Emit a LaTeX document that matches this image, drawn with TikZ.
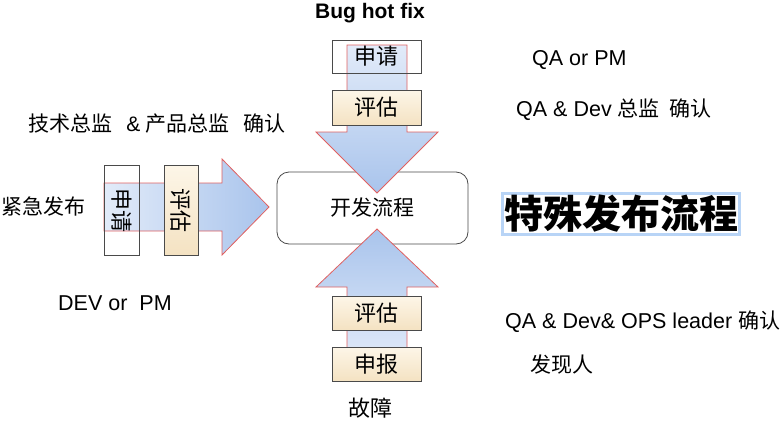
\documentclass[tikz,border=0pt]{standalone}
\usepackage{fontspec}
\setmainfont{Liberation Sans}
\newfontfamily\cjk{Noto Sans CJK SC}
\definecolor{arrlight}{HTML}{E2EBF9}
\definecolor{arrdark}{HTML}{A9C4EC}
\definecolor{redline}{HTML}{E06060}
\definecolor{beigetop}{HTML}{FDF6E8}
\definecolor{beigebot}{HTML}{F4E2C2}
\definecolor{boxline}{HTML}{4A4A4A}
\definecolor{glow}{HTML}{B8D4F6}
\begin{document}
\begin{tikzpicture}[x=1pt,y=-1pt,
  lbl/.style={font=\fontsize{21.5}{25}\selectfont, inner sep=0pt},
  cjklbl/.style={font=\cjk\fontsize{21}{24}\selectfont, inner sep=0pt},
  arrowshape/.style={draw=redline, line width=0.8pt},
  plainbox/.style={draw=boxline, line width=0.8pt, inner sep=0pt},
  beigebox/.style={draw=boxline, line width=0.8pt, inner sep=0pt, top color=beigetop, bottom color=beigebot},
  boxtext/.style={font=\cjk\fontsize{22}{25}\selectfont}
]
\useasboundingbox (0,0) rectangle (784,421);

% main box
\node[draw=boxline, line width=0.8pt, rounded corners=12pt, minimum width=191pt, minimum height=72pt, inner sep=0pt, font=\cjk\fontsize{21}{24}\selectfont] (dev) at (372.5,208) {开发流程};

% top arrow (down)
\shadedraw[arrowshape, top color=arrlight, bottom color=arrdark]
  (347,45) -- (407,45) -- (407,132) -- (438,132) -- (377,193) -- (316,132) -- (347,132) -- cycle;
\node[plainbox, minimum width=89pt, minimum height=33pt] (topreq) at (376.5,56.5) {};
\node[boxtext] at (topreq.center) {申请};
\node[beigebox, minimum width=89pt, minimum height=35pt, boxtext] (topeval) at (376.5,107.5) {评估};

% bottom arrow (up)
\shadedraw[arrowshape, top color=arrdark, bottom color=arrlight]
  (377,229) -- (438,287) -- (407,287) -- (407,365) -- (347,365) -- (347,287) -- (316,287) -- cycle;
\node[beigebox, minimum width=89pt, minimum height=34pt, boxtext] (boteval) at (376.5,313) {评估};
\node[beigebox, minimum width=89pt, minimum height=34pt, boxtext] (botrep) at (376.5,364) {申报};

% left arrow (right)
\shadedraw[arrowshape, left color=arrlight, right color=arrdark]
  (104,183) -- (222,183) -- (222,159) -- (269,207) -- (222,255) -- (222,231) -- (104,231) -- cycle;
\node[plainbox, minimum width=35pt, minimum height=90pt] (leftreq) at (121.5,210) {};
\node[boxtext, rotate=-90] at (leftreq.center) {申请};
\node[beigebox, minimum width=34pt, minimum height=90pt] (lefteval) at (181,210) {};
\node[boxtext, rotate=-90] at (lefteval.center) {评估};

% labels
\node[lbl, font=\bfseries\fontsize{21}{25}\selectfont, anchor=base] (bug) at (370,18) {Bug hot fix};
\node[lbl, anchor=base west] (qapm) at (532,65) {QA or PM};
\node[lbl, anchor=base west] (qadev) at (516,116) {QA \& Dev {\cjk\fontsize{21}{24}\selectfont 总监\ \ 确认}};
\node[cjklbl, anchor=west] (tech) at (28,124) {技术总监\ \ \ {\fontspec{Liberation Sans}\&}\ 产品总监\ \ \ 确认};
\node[anchor=west, inner sep=0pt, font=\cjk\fontsize{21}{24}\selectfont] (urgent) at (1,207) {紧急发布};
\node[lbl, anchor=west] (devpm) at (58,303) {DEV or\ \ PM};
\node[lbl, anchor=base west] (ops) at (505,328) {QA \& Dev\& OPS leader {\cjk\fontsize{21}{24}\selectfont 确认}};
\node[cjklbl, anchor=west] (finder) at (530,365) {发现人};
\node[cjklbl, font=\cjk\fontsize{22}{25}\selectfont] (fault) at (370,408) {故障};

% title
\node[draw=glow, line width=3pt, fill=white, inner sep=1.5pt, font=\cjk\bfseries\fontsize{39}{45}\selectfont] (title) at (621,214) {特殊发布流程};
\end{tikzpicture}
\end{document}
